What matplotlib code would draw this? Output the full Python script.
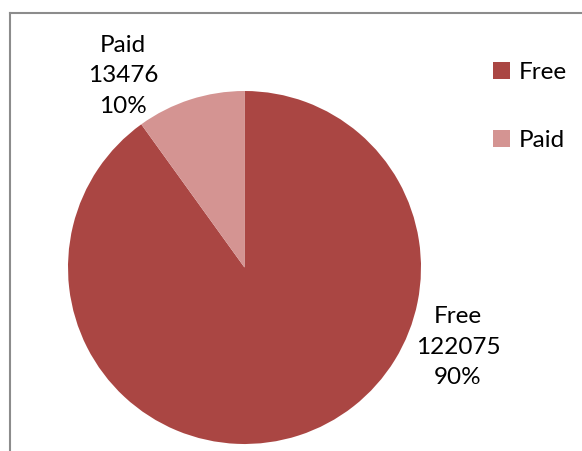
import matplotlib
matplotlib.use("Agg")
import matplotlib.pyplot as plt
from matplotlib.lines import Line2D

categories = ["Free", "Paid"]
values = [122075, 13476]
colors = ["#AA4643", "#D49492"]

plt.rcParams['font.family'] = ['Lato', 'DejaVu Sans']

W, H = 582, 451
fig = plt.figure(figsize=(W / 100, H / 100), dpi=100)
ax = fig.add_axes([0, 0, 1, 1])

wedges, _ = ax.pie(values, colors=colors, startangle=90, counterclock=False,
                   center=(244.5, H - 267.5), radius=176.5, frame=True)
ax.set_xlim(0, W)
ax.set_ylim(0, H)
ax.set_axis_off()

total = sum(values)
label_pos = {"Free": (458, H - 347), "Paid": (123, H - 76)}
for cat, val in zip(categories, values):
    x, y = label_pos[cat]
    ax.text(x, y, f"{cat}\n{val}\n{round(val / total * 100):.0f}%",
            ha="center", va="center", fontsize=17.5, linespacing=1.55, color="black")

leg = fig.legend(wedges, categories, loc="upper left", bbox_to_anchor=(493 / W, 1 - 62 / H),
                 frameon=False, fontsize=17.5, handlelength=0.7, handleheight=0.7,
                 handletextpad=0.35, labelspacing=1.95, borderaxespad=0, borderpad=0)

# chart border (partially visible)
fig.add_artist(Line2D([9.5 / W, 9.5 / W], [0, 1 - 12.5 / H], transform=fig.transFigure,
                      color="#8C8C8C", lw=1.5))
fig.add_artist(Line2D([9.5 / W, 1], [1 - 12.5 / H, 1 - 12.5 / H], transform=fig.transFigure,
                      color="#8C8C8C", lw=1.5))

fig.savefig("out.png", dpi=100)
